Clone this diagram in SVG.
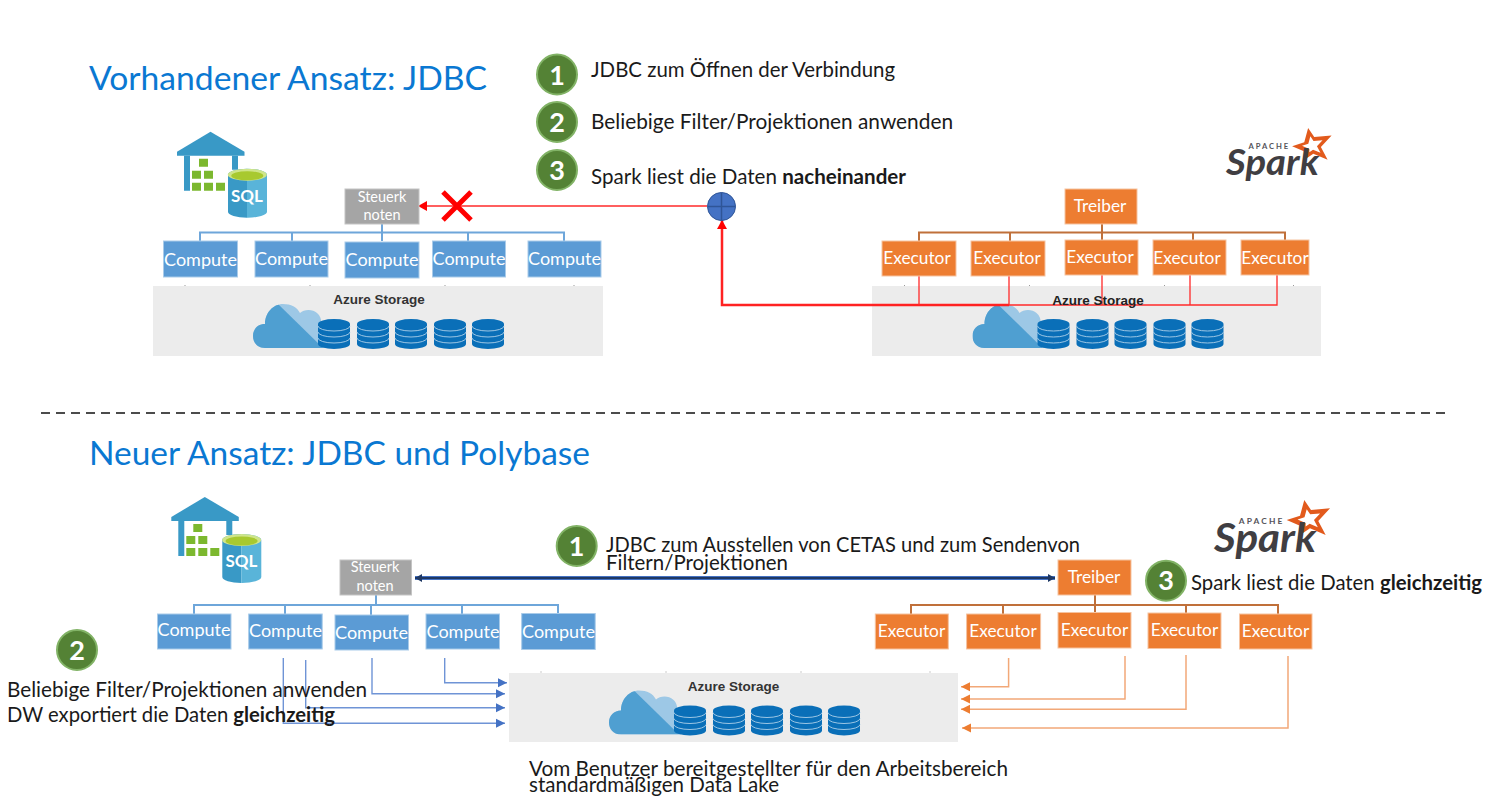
<svg xmlns="http://www.w3.org/2000/svg" xmlns:xlink="http://www.w3.org/1999/xlink" width="1496" height="797" viewBox="0 0 1496 797">
<style>
text{font-family:Lato,"Noto Sans","Liberation Sans",sans-serif}
.title{font-size:33.500px;fill:#0a78d2}
.body{font-size:21.500px;fill:#1a1a1a}
.tight{font-size:20.500px}
.b{font-weight:700}
.box{font-size:18px;fill:#fff;text-anchor:middle}
.ex{font-size:17.300px}
.ctl{font-size:14.500px;fill:#fff;text-anchor:middle}
.cmp{fill:#5b9bd5;stroke:#a9cbe9;stroke-width:1}
.exe{fill:#ed7d31;stroke:#f6c3a0;stroke-width:1}
.gry{fill:#a5a5a5;stroke:#c4c4c4;stroke-width:1}
.badge{fill:#548235;stroke:#82b366;stroke-width:2}
.num{font-size:27px;font-weight:700;fill:#fff;text-anchor:middle}
.store{fill:#ececec}
.az{font-family:"Liberation Sans",Arial,sans-serif;font-size:13.500px;font-weight:700;fill:#333;text-anchor:middle}
.sql{font-size:17px;font-weight:700;fill:#fff;text-anchor:middle}
.tb{fill:none;stroke:#6ea6da;stroke-width:2}
.to{fill:none;stroke:#c0703a;stroke-width:2}
.rd{fill:none;stroke:#ff2a2a;stroke-width:1.300}
.bl{fill:none;stroke:#6f94d6;stroke-width:1.400}
.or{fill:none;stroke:#f2a878;stroke-width:1.500}
.spk{font-size:36px;font-weight:700;font-style:italic;fill:#403e42}
.apa{font-size:7.500px;font-weight:700;fill:#55535a}
</style>
<defs>
<marker id="mr" markerUnits="userSpaceOnUse" markerWidth="10" markerHeight="11" refX="9" refY="5.500" orient="auto"><path d="M0,.5 L9,5.500 L0,10.500Z" fill="#f00"/></marker>
<marker id="mb" markerUnits="userSpaceOnUse" markerWidth="10" markerHeight="10" refX="9" refY="5" orient="auto"><path d="M0,.5 L9,5 L0,9.500Z" fill="#4472c4"/></marker>
<marker id="mo" markerUnits="userSpaceOnUse" markerWidth="10" markerHeight="10" refX="9" refY="5" orient="auto"><path d="M0,.5 L9,5 L0,9.500Z" fill="#ed7d31"/></marker>
<marker id="mn" markerUnits="userSpaceOnUse" markerWidth="8" markerHeight="10" refX="7" refY="5" orient="auto-start-reverse"><path d="M0,1 L7,5 L0,9Z" fill="#1f3864"/></marker>
<clipPath id="cl"><path d="M0,0 H25 L70,44 H0Z"/></clipPath>
<path id="cloudshape" d="M12,44 C4,44 0,38 0,32 C0,25 5,20 12,20 C12,9 20,0 30,0 C38,0 44,3 47,9 C51,5 60,5 64,9 C68,12 69,18 68,22 L72,44Z"/>
<g id="db">
<path d="M0,5 A16,5 0 0 1 32,5 V25 A16,5 0 0 1 0,25Z" fill="#0a6fb8"/>
<path d="M0,7 A16,5 0 0 0 32,7 M0,13 A16,5 0 0 0 32,13 M0,19 A16,5 0 0 0 32,19" fill="none" stroke="#9cc6e4" stroke-width="1"/>
</g>
<g id="storeart">
<use xlink:href="#cloudshape" href="#cloudshape" x="100" y="18" fill="#9dc8e6"/>
<g transform="translate(100,18)"><use xlink:href="#cloudshape" href="#cloudshape" fill="#4f9fd1" clip-path="url(#cl)"/></g>
<use xlink:href="#db" href="#db" x="165" y="33"/>
<use xlink:href="#db" href="#db" x="204" y="33"/>
<use xlink:href="#db" href="#db" x="242" y="33"/>
<use xlink:href="#db" href="#db" x="281" y="33"/>
<use xlink:href="#db" href="#db" x="319" y="33"/>
<path d="M32,-1v1M157,-1v1M292,-1v1M421,-1v1" stroke="#999" stroke-width="1"/>
</g>
<g id="wh">
<path d="M33.500,0 L67.500,20 V24 H0 V20Z" fill="#3999c6"/>
<path d="M7,24 H13 V59 H7Z M55,24 H61 V38 H55Z" fill="#3999c6"/>
<path d="M22,27h9v8h-9Z M15,39h9v8h-9Z M27,39h9v8h-9Z M15,51h9v8h-9Z M27,51h9v8h-9Z M39,51h9v8h-9Z" fill="#7cb82f"/>
<path d="M51,43 A19.500,6 0 0 1 70,37 V86 A19.500,6 0 0 1 51,80Z" fill="#3999c6"/>
<path d="M70,37 A19.500,6 0 0 1 90,43 V80 A19.500,6 0 0 1 70,86Z" fill="#59b4d9"/>
<ellipse cx="70.300" cy="43" rx="19.500" ry="6" fill="#cfe58a"/>
<ellipse cx="70.300" cy="44" rx="16" ry="4.500" fill="#a8c92f"/>
</g>
<path id="starshape" d="M81.500,0 L87.500,8.900 L104.500,7.400 L94,18.700 L100.600,31.200 L86.600,25.300 L79.700,29.800 L79.700,23.800 L65.800,17.900 L77.700,14Z"/>
<g id="star">
<use xlink:href="#starshape" href="#starshape" fill="#e25a1c"/>
<g transform="translate(86,17) scale(.52) translate(-86,-17)"><use xlink:href="#starshape" href="#starshape" fill="#fff"/></g>
</g>
</defs>

<rect width="1496" height="797" fill="#fff"/>

<text class="title" x="89" y="90" textLength="398" lengthAdjust="spacingAndGlyphs">Vorhandener Ansatz: JDBC</text>
<text class="title" x="89" y="464.500" textLength="501" lengthAdjust="spacingAndGlyphs">Neuer Ansatz: JDBC und Polybase</text>
<path d="M41,413 H1448" stroke="#111" stroke-width="1.500" stroke-dasharray="9 6" fill="none"/>

<g id="step1-top"><circle class="badge" cx="557" cy="74.500" r="20"/><text class="num" x="557" y="84.500">1</text><text class="body" x="591" y="76.500" textLength="304" lengthAdjust="spacingAndGlyphs">JDBC zum Öffnen der Verbindung</text></g>
<g id="step2-top"><circle class="badge" cx="557" cy="122" r="20"/><text class="num" x="557" y="131.500">2</text><text class="body" x="591" y="128.500" textLength="362" lengthAdjust="spacingAndGlyphs">Beliebige Filter/Projektionen anwenden</text></g>
<g id="step3-top"><circle class="badge" cx="557" cy="170" r="20"/><text class="num" x="557" y="179.500">3</text><text class="body" x="591" y="183.500" textLength="315" lengthAdjust="spacingAndGlyphs">Spark liest die Daten <tspan class="b">nacheinander</tspan></text></g>

<g id="sql-top"><use xlink:href="#wh" href="#wh" x="177" y="131.700"/><text class="sql" x="247" y="202">SQL</text></g>
<g id="sql-bottom"><use xlink:href="#wh" href="#wh" x="171.300" y="497"/><text class="sql" x="241.500" y="567">SQL</text></g>

<g id="spark-top" transform="translate(1225,128) scale(1.020)"><use xlink:href="#star" href="#star"/><text class="apa" x="23" y="21" textLength="39">APACHE</text><text class="spk" x="1" y="46" textLength="91" lengthAdjust="spacingAndGlyphs">Spark</text></g>
<g id="spark-bottom" transform="translate(1213,500) scale(1.120)"><use xlink:href="#star" href="#star"/><text class="apa" x="23" y="21" textLength="39">APACHE</text><text class="spk" x="1" y="46" textLength="91" lengthAdjust="spacingAndGlyphs">Spark</text></g>

<g id="storage-top-left"><rect class="store" x="153" y="286" width="450" height="70"/><use xlink:href="#storeart" href="#storeart" x="153" y="286"/><text class="az" x="379" y="304">Azure Storage</text></g>
<g id="storage-top-right"><rect class="store" x="872" y="286" width="449" height="70"/><use xlink:href="#storeart" href="#storeart" x="872.500" y="286"/></g>
<g id="storage-bottom"><rect class="store" x="509" y="673" width="449" height="69"/><use xlink:href="#storeart" href="#storeart" x="509" y="672.500"/><text class="az" x="733.500" y="691">Azure Storage</text></g>

<g id="connectors">
<path class="tb" d="M200,241 V232.500 H564 V241 M292,232.500 V241 M382,224 V241 M468,232.500 V241"/>
<path class="to" d="M919,241 V232.500 H1285 V240 M1010,232.500 V241 M1102,224 V240 M1193,232.500 V240"/>
<path class="rd" d="M707,206 H418" marker-end="url(#mr)"/>
<path d="M443,192 L471,220 M471,192 L443,220" stroke="#f00" stroke-width="5" fill="none"/>
<path d="M1009,305 H722 V220" fill="none" stroke="#f22" stroke-width="2.500" marker-end="url(#mr)"/>
<path class="rd" d="M919,276 V305 M1009,276 V305 M1102,275 V305 M1190,275 V305 M1277,275 V305 H1009"/>
<path d="M415,578 H1055" stroke="#4472c4" stroke-width="4" fill="none"/>
<path d="M415,578 H1055" stroke="#1f3864" stroke-width="2.200" fill="none" marker-start="url(#mn)" marker-end="url(#mn)"/>
<path class="tb" d="M194,614 V605 H558 V613 M285,605 V614 M371,605 V615 M462,605 V614 M376,595 V605"/>
<path class="to" d="M911,614 V605 H1278 V614 M1003,605 V614 M1095,595 V612 M1186,605 V613"/>
<path class="bl" d="M444.700,658 V682.700 H507" marker-end="url(#mb)"/>
<path class="bl" d="M372,658 V693.700 H505" marker-end="url(#mb)"/>
<path class="bl" d="M305.700,660 V707.700 H505" marker-end="url(#mb)"/>
<path class="bl" d="M283.300,658 V723.300 H505" marker-end="url(#mb)"/>
<path class="or" d="M1008.600,658 V686.700 H961" marker-end="url(#mo)"/>
<path class="or" d="M1125,656 V699 H961" marker-end="url(#mo)"/>
<path class="or" d="M1186,655 V709.300 H961" marker-end="url(#mo)"/>
<path class="or" d="M1288,656 V728 H962" marker-end="url(#mo)"/>
</g>

<text class="az" x="1098" y="305" style="fill:#222">Azure Storage</text>

<g id="junction"><ellipse cx="721.500" cy="206.500" rx="14" ry="14" fill="#4472c4" stroke="#2f5597" stroke-width="1"/><path d="M707.500,206.500 H735.500 M721.500,192.500 V220.500" stroke="#2f5597" stroke-width="1.500"/></g>

<g id="control-top"><rect class="gry" x="345" y="189" width="74" height="35"/><text class="ctl" x="382" y="202">Steuerk</text><text class="ctl" x="382" y="220">noten</text></g>
<g id="compute-t1"><rect class="cmp" x="163.500" y="241" width="74" height="36"/><text class="box" x="200.500" y="265.500">Compute</text></g>
<g id="compute-t2"><rect class="cmp" x="255" y="241" width="73" height="36"/><text class="box" x="291.500" y="264.500">Compute</text></g>
<g id="compute-t3"><rect class="cmp" x="345" y="242" width="74" height="36"/><text class="box" x="382" y="265.500">Compute</text></g>
<g id="compute-t4"><rect class="cmp" x="432.500" y="241" width="73" height="36"/><text class="box" x="469" y="264.500">Compute</text></g>
<g id="compute-t5"><rect class="cmp" x="528" y="241" width="73" height="36"/><text class="box" x="564.500" y="264.500">Compute</text></g>

<g id="driver-top"><rect class="exe" x="1065" y="189" width="72" height="35"/><text class="box ex" x="1100" y="212">Treiber</text></g>
<g id="executor-t1"><rect class="exe" x="882" y="241" width="74" height="35"/><text class="box ex" x="917" y="264">Executor</text></g>
<g id="executor-t2"><rect class="exe" x="971" y="241" width="74" height="35"/><text class="box ex" x="1007" y="264">Executor</text></g>
<g id="executor-t3"><rect class="exe" x="1065" y="240" width="73" height="35"/><text class="box ex" x="1100" y="263">Executor</text></g>
<g id="executor-t4"><rect class="exe" x="1153" y="240" width="73" height="35"/><text class="box ex" x="1187" y="264">Executor</text></g>
<g id="executor-t5"><rect class="exe" x="1241" y="240" width="68" height="35"/><text class="box ex" x="1275" y="264">Executor</text></g>

<g id="step1-bottom"><circle class="badge" cx="576.700" cy="546" r="20"/><text class="num" x="576.700" y="555.500">1</text><text class="body tight" x="606" y="552" textLength="474" lengthAdjust="spacingAndGlyphs">JDBC zum Ausstellen von CETAS und zum Sendenvon</text><text class="body tight" x="606" y="569.500" textLength="182" lengthAdjust="spacingAndGlyphs">Filtern/Projektionen</text></g>
<g id="step2-bottom"><circle class="badge" cx="77" cy="650" r="20"/><text class="num" x="77" y="659.500">2</text><text class="body" x="7" y="697" textLength="360" lengthAdjust="spacingAndGlyphs">Beliebige Filter/Projektionen anwenden</text><text class="body" x="7" y="722" textLength="328" lengthAdjust="spacingAndGlyphs">DW exportiert die Daten <tspan class="b">gleichzeitig</tspan></text></g>
<g id="step3-bottom"><circle class="badge" cx="1166" cy="580.700" r="20"/><text class="num" x="1166" y="590">3</text><text class="body" x="1191" y="590" textLength="291" lengthAdjust="spacingAndGlyphs">Spark liest die Daten <tspan class="b">gleichzeitig</tspan></text></g>
<g id="lake-label"><text class="body tight" x="529" y="775.500" textLength="479" lengthAdjust="spacingAndGlyphs">Vom Benutzer bereitgestellter für den Arbeitsbereich</text><text class="body tight" x="529" y="792" textLength="250" lengthAdjust="spacingAndGlyphs">standardmäßigen Data Lake</text></g>

<g id="control-bottom"><rect class="gry" x="340" y="560" width="71.500" height="35"/><text class="ctl" x="375" y="572">Steuerk</text><text class="ctl" x="375" y="591">noten</text></g>
<g id="compute-b1"><rect class="cmp" x="157.500" y="614" width="73.500" height="35"/><text class="box" x="194" y="636">Compute</text></g>
<g id="compute-b2"><rect class="cmp" x="248.700" y="614" width="73.500" height="35"/><text class="box" x="285.500" y="637">Compute</text></g>
<g id="compute-b3"><rect class="cmp" x="335" y="615" width="73.500" height="35"/><text class="box" x="371.500" y="638.500">Compute</text></g>
<g id="compute-b4"><rect class="cmp" x="426" y="614" width="73.500" height="35"/><text class="box" x="463" y="637.500">Compute</text></g>
<g id="compute-b5"><rect class="cmp" x="521.700" y="613.500" width="73.500" height="36"/><text class="box" x="558.500" y="637.500">Compute</text></g>

<g id="driver-bottom"><rect class="exe" x="1058" y="560" width="73" height="35"/><text class="box ex" x="1094" y="583">Treiber</text></g>
<g id="executor-b1"><rect class="exe" x="875.300" y="614" width="73" height="35"/><text class="box ex" x="911.500" y="637">Executor</text></g>
<g id="executor-b2"><rect class="exe" x="966.600" y="614" width="74" height="35"/><text class="box ex" x="1003" y="637">Executor</text></g>
<g id="executor-b3"><rect class="exe" x="1058" y="612.500" width="73" height="35.500"/><text class="box ex" x="1094.500" y="636">Executor</text></g>
<g id="executor-b4"><rect class="exe" x="1148" y="613" width="73" height="35.500"/><text class="box ex" x="1184.500" y="636">Executor</text></g>
<g id="executor-b5"><rect class="exe" x="1239.500" y="614" width="72.500" height="35"/><text class="box ex" x="1275.500" y="637">Executor</text></g>
</svg>
